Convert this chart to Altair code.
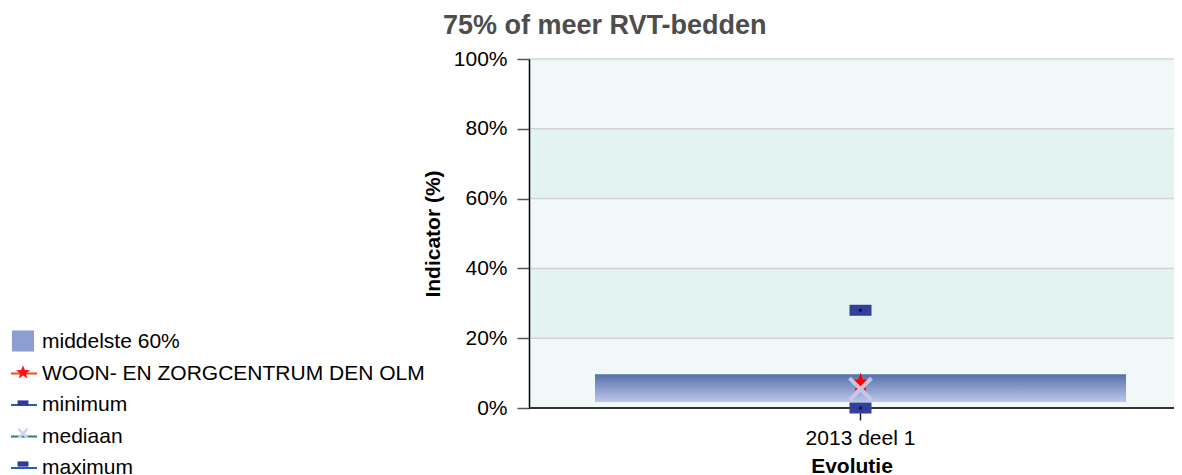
import math
import altair as alt
import pandas as pd

# ---------------- data ----------------
categories = ["2013 deel 1"]
p20 = [1.7]          # lower edge "middelste 60%"
p80 = [9.7]          # upper edge "middelste 60%"
facility = [7.2]     # WOON- EN ZORGCENTRUM DEN OLM
minimum = [0.0]
median = [5.4]
maximum = [28.0]

y_ticks = [0, 20, 40, 60, 80, 100]
band_lo = [0, 20, 40, 60, 80]
band_hi = [20, 40, 60, 80, 100]
band_shade = ["#f0f9f8", "#e2f3f2", "#f0f9f8", "#e2f3f2", "#f0f9f8"]

legend_labels = ["middelste 60%", "WOON- EN ZORGCENTRUM DEN OLM",
                 "minimum", "mediaan", "maximum"]
legend_line_colors = ["transparent", "#e84d1c", "#2462ae", "#2a7d80", "#2462ae"]
legend_fill_colors = ["#8d9fd2", "#ff1010", "#2f3a9c", "#d2d2ee", "#2f3a9c"]

FONT = "Liberation Sans"


# ---------------- shapes ----------------
def star_path(R, r):
    pts = []
    for k in range(10):
        a = math.radians(-90 + 36 * k)
        rad = R if k % 2 == 0 else r
        pts.append(f"{rad * math.cos(a):.3f},{rad * math.sin(a):.3f}")
    return "M" + "L".join(pts) + "Z"


def x_polygon(ext, w):
    a = ext * math.sqrt(2) - w
    base = [(-w, -a), (w, -a), (w, -w), (a, -w), (a, w), (w, w), (w, a),
            (-w, a), (-w, w), (-a, w), (-a, -w), (-w, -w)]
    c = math.cos(math.radians(45))
    pts = [((px - py) * c, (px + py) * c) for px, py in base]
    return "M" + "L".join(f"{px:.3f},{py:.3f}" for px, py in pts) + "Z"


rect_path = "M-1,-0.5L1,-0.5L1,0.5L-1,0.5Z"
legend_shapes = [
    "M-0.85,-0.81H0.85V0.81H-0.85Z",
    star_path(0.56, 0.24),
    "M-0.42,-0.2H0.42V0.2H-0.42Z",
    x_polygon(0.42, 0.1),
    "M-0.42,-0.2H0.42V0.2H-0.42Z",
]

# ---------------- tables ----------------
main = pd.DataFrame({"cat": categories, "p20": p20, "p80": p80, "fac": facility,
                     "mn": minimum, "md": median, "mx": maximum})
bands = pd.DataFrame({"lo": band_lo, "hi": band_hi, "shade": band_shade})
grid = pd.DataFrame({"v": y_ticks[1:]})
base0 = pd.DataFrame({"v": y_ticks[:1]})
leg_a = pd.DataFrame({"item": legend_labels, "v": [None] * len(legend_labels)})
leg_b = pd.DataFrame({"entry": [s + " " for s in legend_labels],
                      "v": [None] * len(legend_labels)})

yscale = alt.Scale(domain=[0, 100], nice=False, zero=True)
xscale = alt.Scale(domain=categories, paddingInner=0, paddingOuter=0.1073, align=0.579)

yaxis = alt.Axis(values=y_ticks, labelExpr="datum.value + '%'", title="Indicator (%)",
                 grid=False, zindex=1, tickSize=12, tickColor="#555555", tickWidth=1.5,
                 domainColor="#000000", domainWidth=1.5, labelPadding=10,
                 titlePadding=10, labelFontSize=21, titleFontSize=21)
xaxis = alt.Axis(title="Evolutie", labelAngle=0, domain=False, grid=False,
                 tickSize=12, tickColor="#222222", tickWidth=1.5, labelPadding=7,
                 titlePadding=7, labelFontSize=21, titleFontSize=21)

X = alt.X("cat:N", scale=xscale, axis=xaxis)

bg = alt.Chart(bands).mark_rect().encode(
    y=alt.Y("lo:Q", scale=yscale, axis=yaxis),
    y2="hi:Q",
    fill=alt.Fill("shade:N", scale=None, legend=None),
)

gridlines = alt.Chart(grid).mark_rule(color="#d4d4d4", strokeWidth=1.5).encode(
    y=alt.Y("v:Q", scale=yscale))

gradient = alt.LinearGradient(
    gradient="linear",
    stops=[alt.GradientStop(offset=0, color="#5570a8"),
           alt.GradientStop(offset=1, color="#bcc8ea")],
    x1=0, x2=0, y1=0, y2=1)

middle = alt.Chart(main).mark_bar(color=gradient).encode(
    x=X, y=alt.Y("p20:Q", scale=yscale), y2="p80:Q")

baseline = alt.Chart(base0).mark_rule(color="#333333", strokeWidth=2).encode(
    y=alt.Y("v:Q", scale=yscale))

extremes = alt.Chart(main).transform_fold(["mn", "mx"], as_=["k", "val"]).mark_point(
    shape=rect_path, size=484, filled=True, color="#343f9b", opacity=1, strokeWidth=0
).encode(x=X, y=alt.Y("val:Q", scale=yscale))

dots = alt.Chart(main).transform_fold(["mn", "mx"], as_=["k", "val"]).mark_circle(
    size=12, color="#0a1470", opacity=1
).encode(x=X, y=alt.Y("val:Q", scale=yscale))

star = alt.Chart(main).mark_point(
    shape=star_path(1, 0.42), size=400, filled=True, color="#ff0000", opacity=1, strokeWidth=0
).encode(x=X, y=alt.Y("fac:Q", scale=yscale))

medx = alt.Chart(main).mark_point(
    shape="M-1,-1L1,1M1,-1L-1,1", size=484, filled=False, color="#c9c9e9",
    strokeWidth=4, opacity=0.95
).encode(x=X, y=alt.Y("md:Q", scale=yscale))

LEGX, LEGY = -519, 269
ROWPAD = 7.5

legend_lines = alt.Chart(leg_a).mark_point(filled=False, strokeWidth=2, opacity=1, size=676).encode(
    y=alt.Y("v:Q", scale=yscale),
    stroke=alt.Stroke("item:N", scale=alt.Scale(domain=legend_labels, range=legend_line_colors),
                      legend=alt.Legend(orient="none", legendX=LEGX, legendY=LEGY, title=None,
                                        symbolType="M-1,0H1", symbolSize=676,
                                        symbolStrokeWidth=2, symbolFillColor="transparent",
                                        labelFont=FONT, labelFontSize=21, labelColor="#000000",
                                        labelLimit=800, labelOffset=4, rowPadding=ROWPAD,
                                        padding=0, zindex=0)),
)

leg_domain_b = [s + " " for s in legend_labels]
leg_b_legend = alt.Legend(orient="none", legendX=LEGX, legendY=LEGY, title=None,
                          symbolSize=676, symbolStrokeWidth=0,
                          labelFont=FONT, labelFontSize=21, labelOpacity=0,
                          labelExpr="''", labelLimit=800, labelOffset=4,
                          rowPadding=ROWPAD, padding=0, zindex=1)
legend_marks = alt.Chart(leg_b).mark_point(filled=True, strokeWidth=0, opacity=1, size=676).encode(
    y=alt.Y("v:Q", scale=yscale),
    color=alt.Color("entry:N", scale=alt.Scale(domain=leg_domain_b, range=legend_fill_colors),
                    legend=leg_b_legend),
    shape=alt.Shape("entry:N", scale=alt.Scale(domain=leg_domain_b, range=legend_shapes),
                    legend=leg_b_legend),
)

chart = alt.layer(
    bg, gridlines, middle, baseline, extremes, dots, star, medx, legend_lines, legend_marks
).properties(
    width=645, height=349,
    padding={"left": 521, "top": 51, "right": 0, "bottom": 67},
    autosize=alt.AutoSizeParams(type="none"),
    title=alt.TitleParams("75% of meer RVT-bedden", font=FONT, fontSize=27,
                          fontWeight="bold", color="#4d4d4d", anchor="start",
                          frame="group", dx=-86, dy=-4),
).configure_view(stroke=None).configure_axis(
    labelFont=FONT, titleFont=FONT, labelColor="#000000", titleColor="#000000",
    titleFontWeight="bold"
).configure(background="#ffffff")

chart.save("out.html", embed_options={"renderer": "svg", "actions": False})
